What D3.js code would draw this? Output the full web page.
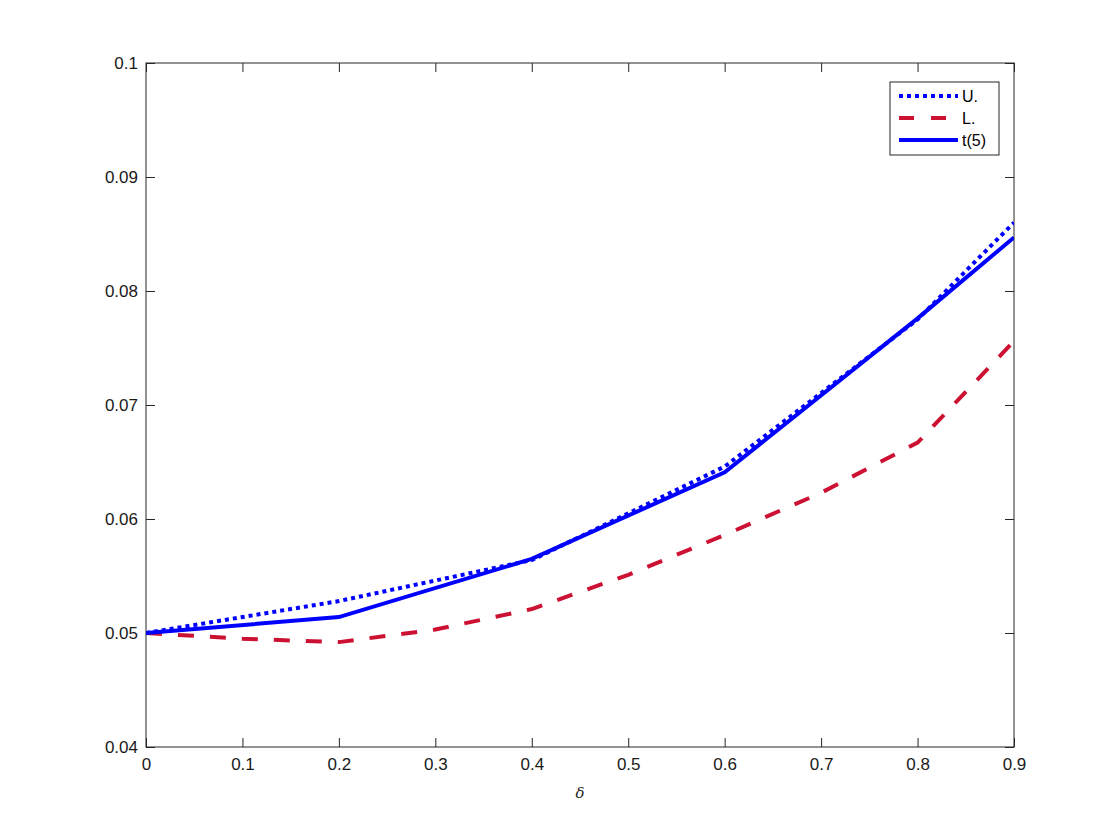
<!DOCTYPE html>
<html>
<head>
<meta charset="utf-8">
<script src="https://cdn.jsdelivr.net/npm/d3@7"></script>
<style>
  html, body { margin: 0; padding: 0; background: #fff; }
  text { font-family: "Liberation Sans", Arial, Helvetica, sans-serif; }
</style>
</head>
<body>
<svg id="chart" width="1120" height="840"></svg>
<script>
// ---- data ----
const xBlue = [0, 0.2, 0.4, 0.6, 0.8, 0.9];
const uValues = [0.0500, 0.0528, 0.0564, 0.0646, 0.0775, 0.0860];
const tValues = [0.0500, 0.0514, 0.0565, 0.0641, 0.0776, 0.0847];
const xRed = [0, 0.1, 0.2, 0.3, 0.4, 0.5, 0.6, 0.7, 0.8, 0.9];
const lValues = [0.0500, 0.0495, 0.0492, 0.0503, 0.0521, 0.0551, 0.0586, 0.0623, 0.0667, 0.0756];
const xTicks = [0, 0.1, 0.2, 0.3, 0.4, 0.5, 0.6, 0.7, 0.8, 0.9];
const yTicks = [0.04, 0.05, 0.06, 0.07, 0.08, 0.09, 0.1];
const seriesNames = ["U.", "L.", "t(5)"];
const xLabel = "δ";

(function () {
// ---- layout ----
const svg = d3.select("#chart");
const pL = 146, pR = 1014, pT = 63, pB = 747;
const x = d3.scaleLinear().domain([0, 0.9]).range([pL, pR]);
const y = d3.scaleLinear().domain([0.04, 0.1]).range([pB, pT]);
const axisColor = "#262626";
const tickLen = 9;
const fmt = d => String(+d.toFixed(2));

// axes
const gx = svg.append("g").attr("transform", `translate(0,${pB})`)
  .call(d3.axisBottom(x).tickValues(xTicks).tickSize(-tickLen).tickPadding(11).tickFormat(fmt));
const gy = svg.append("g").attr("transform", `translate(${pL},0)`)
  .call(d3.axisLeft(y).tickValues(yTicks).tickSize(-tickLen).tickPadding(8).tickFormat(fmt));
const gxt = svg.append("g").attr("transform", `translate(0,${pT})`)
  .call(d3.axisTop(x).tickValues(xTicks).tickSize(-tickLen).tickFormat(""));
const gyr = svg.append("g").attr("transform", `translate(${pR},0)`)
  .call(d3.axisRight(y).tickValues(yTicks).tickSize(-tickLen).tickFormat(""));
[gx, gy, gxt, gyr].forEach(g => {
  g.select(".domain").remove();
  g.selectAll(".tick line").attr("stroke", axisColor).attr("stroke-width", 1);
  g.selectAll(".tick text").attr("fill", "#1a1a1a").style("font-size", "17px")
    .style("font-family", "'Liberation Sans', Arial, sans-serif");
});
svg.append("rect").attr("x", pL).attr("y", pT)
  .attr("width", pR - pL).attr("height", pB - pT)
  .attr("fill", "none").attr("stroke", axisColor).attr("stroke-width", 1);

// x label
svg.append("text").attr("x", (pL + pR) / 2).attr("y", 798)
  .attr("text-anchor", "middle").style("font-size", "15px")
  .style("font-style", "italic").style("font-family", "'DejaVu Serif', serif")
  .attr("fill", "#262626").text(xLabel);

// lines
svg.append("clipPath").attr("id", "clip").append("rect")
  .attr("x", pL).attr("y", pT).attr("width", pR - pL).attr("height", pB - pT);
const line = (xs) => d3.line().x((d, i) => x(xs[i])).y(d => y(d));
const g = svg.append("g").attr("clip-path", "url(#clip)");
const blue = "#0000ff", red = "#cc1133";
g.append("path").datum(lValues).attr("d", line(xRed))
  .attr("fill", "none").attr("stroke", red).attr("stroke-width", 4)
  .attr("stroke-dasharray", "16,16");
g.append("path").datum(tValues).attr("d", line(xBlue))
  .attr("fill", "none").attr("stroke", blue).attr("stroke-width", 4);
g.append("path").datum(uValues).attr("d", line(xBlue))
  .attr("fill", "none").attr("stroke", blue).attr("stroke-width", 4)
  .attr("stroke-dasharray", "4,4");

// legend
const lg = svg.append("g");
lg.append("rect").attr("x", 890).attr("y", 82).attr("width", 109).attr("height", 73)
  .attr("fill", "#fff").attr("stroke", axisColor).attr("stroke-width", 1);
const styles = [
  { color: blue, dash: "4,4" },
  { color: red, dash: "15,17" },
  { color: blue, dash: null }
];
seriesNames.forEach((name, i) => {
  const yy = 96 + i * 22;
  const l = lg.append("line").attr("x1", 899).attr("x2", 958).attr("y1", yy).attr("y2", yy)
    .attr("stroke", styles[i].color).attr("stroke-width", 4);
  if (styles[i].dash) l.attr("stroke-dasharray", styles[i].dash);
  lg.append("text").attr("x", 962).attr("y", yy + 6).style("font-size", "16px")
    .attr("fill", "#000").text(name);
});
})();
</script>
</body>
</html>
